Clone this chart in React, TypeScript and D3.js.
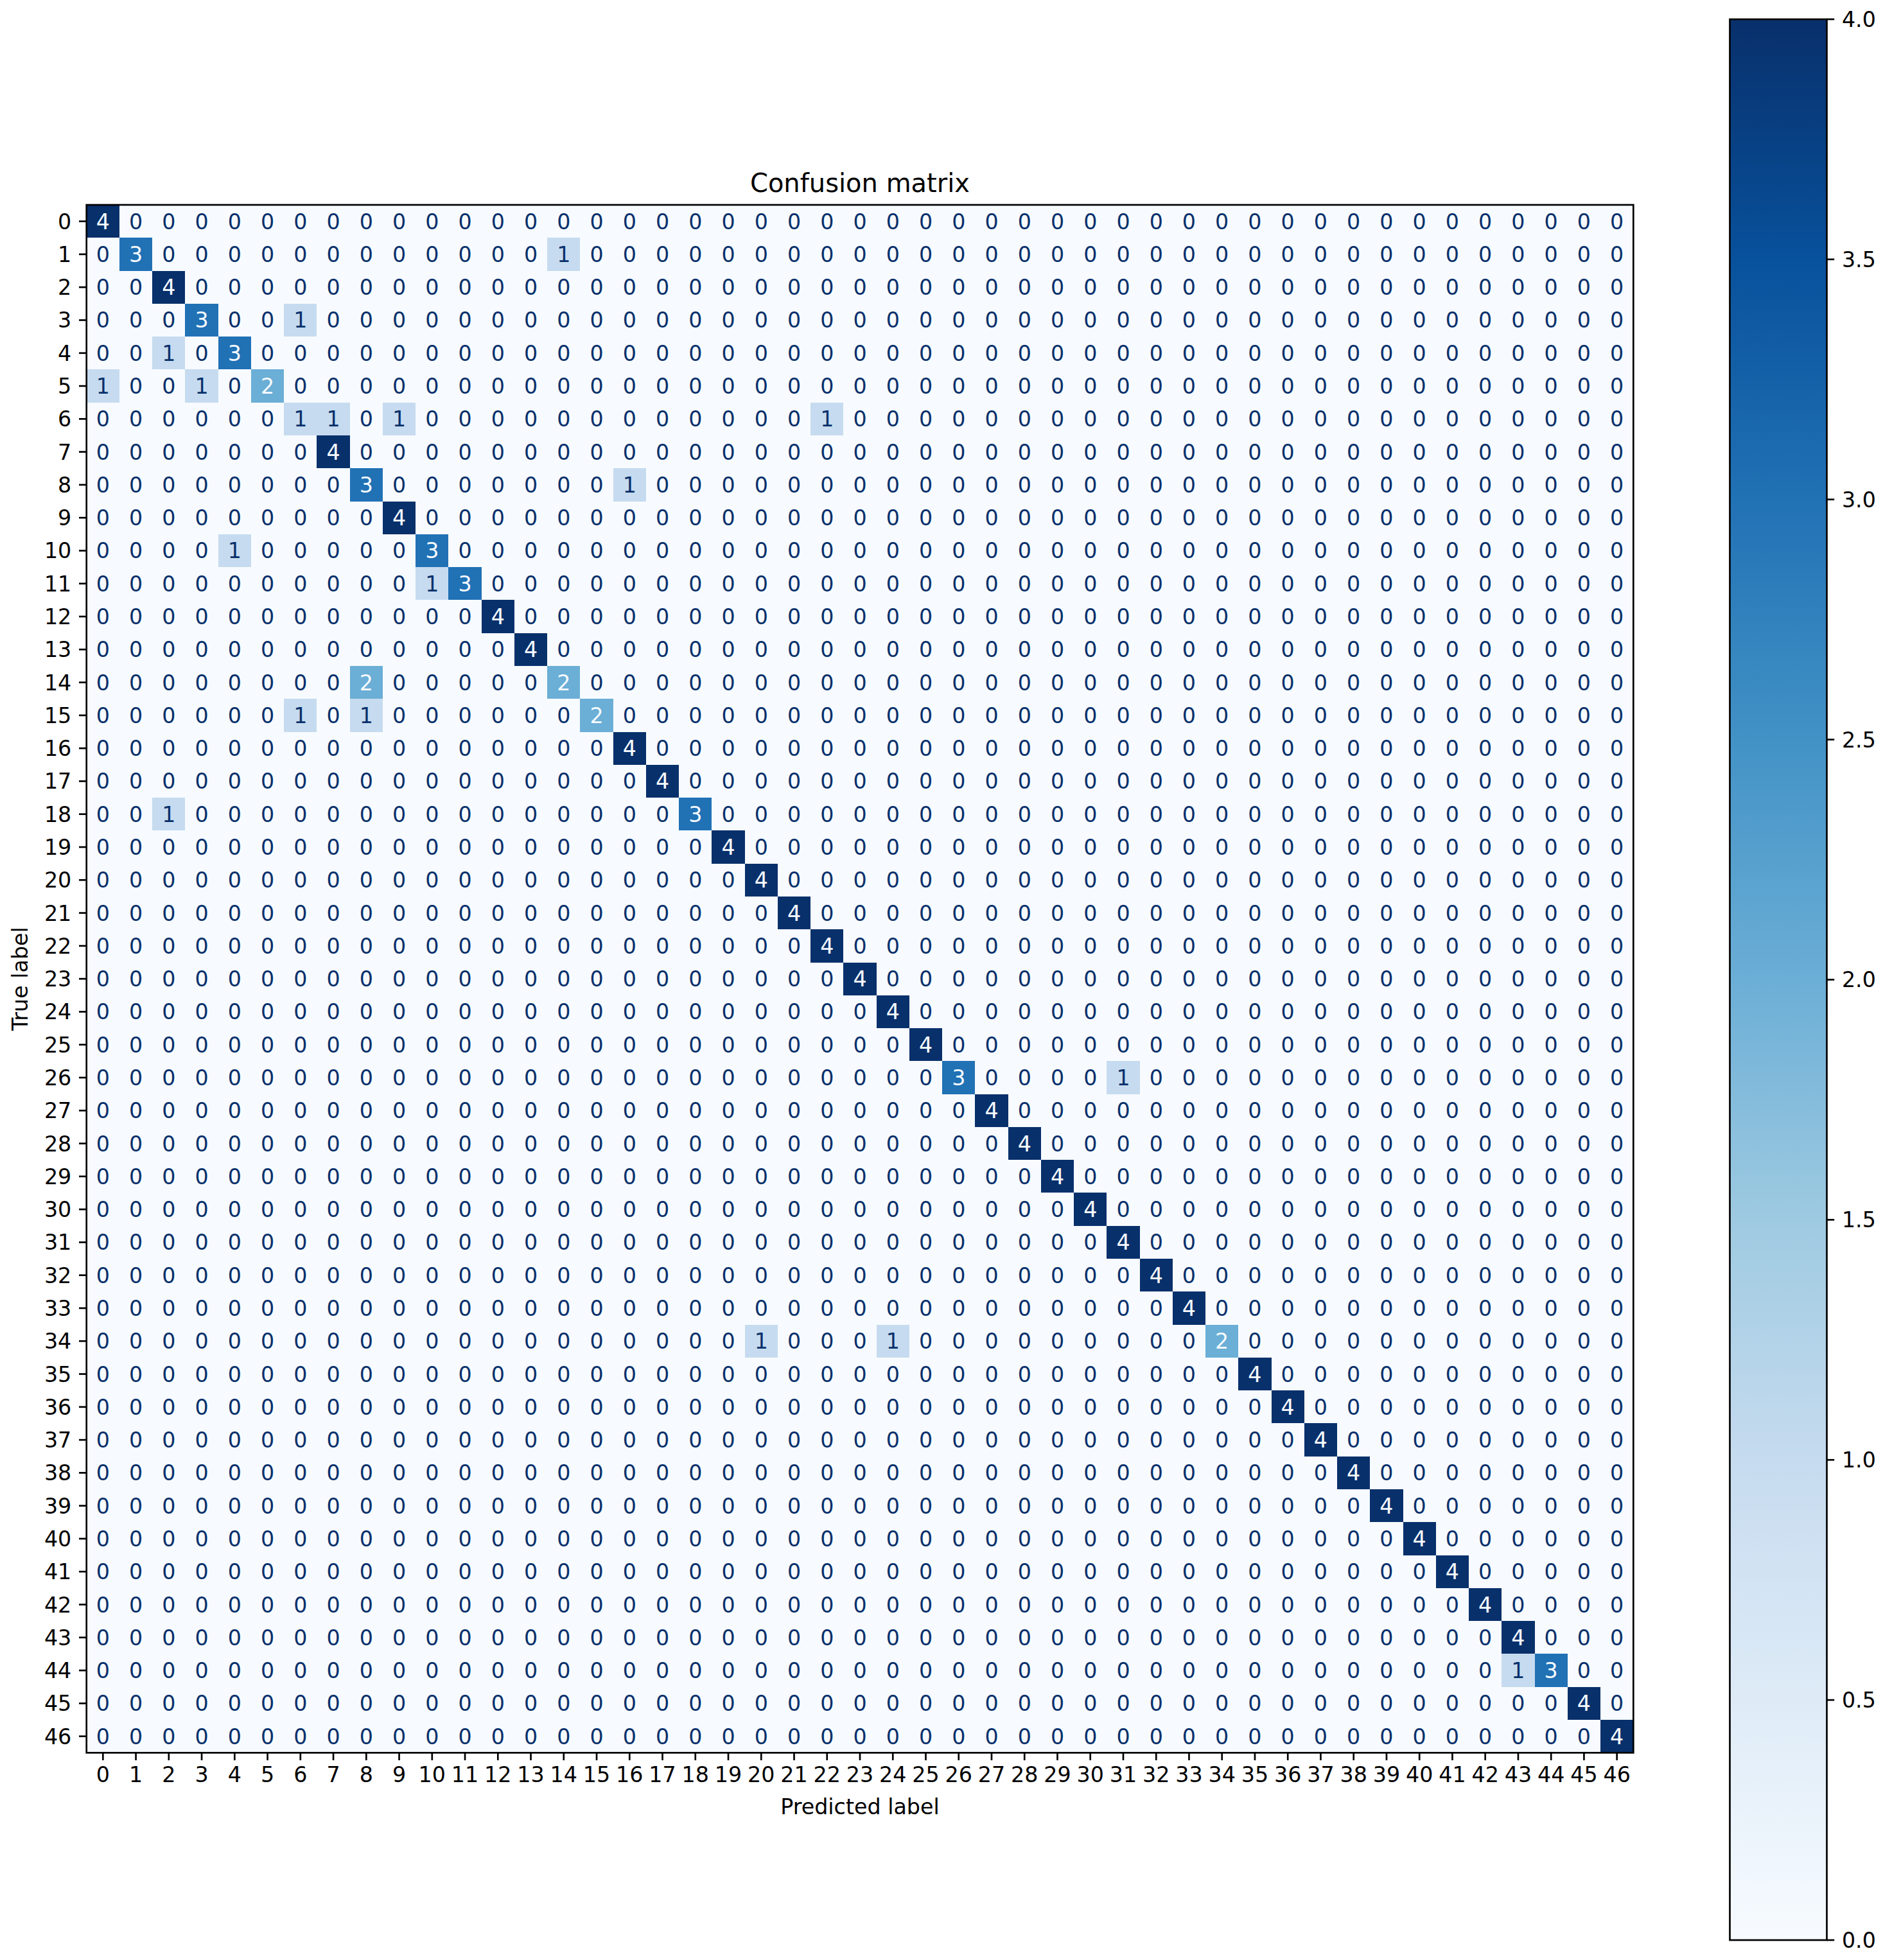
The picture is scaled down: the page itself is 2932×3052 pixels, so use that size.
import React from "react";
import * as d3 from "d3";

// ---- data ----
const classLabels: string[] = [
  "0","1","2","3","4","5","6","7","8","9","10","11","12","13","14","15",
  "16","17","18","19","20","21","22","23","24","25","26","27","28","29","30","31",
  "32","33","34","35","36","37","38","39","40","41","42","43","44","45","46",
];

// correct predictions (diagonal), one per true label
const diagonalCounts: number[] = [
  4, 3, 4, 3, 3, 2, 1, 4, 3, 4, 3, 3, 4, 4, 2, 2,
  4, 4, 3, 4, 4, 4, 4, 4, 4, 4, 3, 4, 4, 4, 4, 4,
  4, 4, 2, 4, 4, 4, 4, 4, 4, 4, 4, 4, 3, 4, 4,
];

// misclassifications: [true, predicted, count]
const offDiagonal: [number, number, number][] = [
  [1, 14, 1], [3, 6, 1], [4, 2, 1], [5, 0, 1], [5, 3, 1],
  [6, 7, 1], [6, 9, 1], [6, 22, 1], [8, 16, 1], [10, 4, 1],
  [11, 10, 1], [14, 8, 2], [15, 6, 1], [15, 8, 1], [18, 2, 1],
  [26, 31, 1], [34, 20, 1], [34, 24, 1], [44, 43, 1],
];

const colorbarTicks: number[] = [0, 0.5, 1, 1.5, 2, 2.5, 3, 3.5, 4];

// matplotlib "Blues" control colours
const bluesColors: string[] = [
  "#f7fbff", "#deebf7", "#c6dbef", "#9ecae1", "#6baed6",
  "#4292c6", "#2171b5", "#08519c", "#08306b",
];

const W = 2932;
const H = 3052;
const FONT = "DejaVu Sans";
const FS = 33.3;
const TITLE_FS = 40;
const TICK = 11.7;
const LW = 2.67;

export default function App() {
  const n = classLabels.length;
  const matrix: number[][] = classLabels.map((_, i) =>
    classLabels.map((__, j) => (i === j ? diagonalCounts[i] : 0))
  );
  offDiagonal.forEach(([r, c, v]) => {
    matrix[r][c] = v;
  });
  const cells = matrix.flatMap((row, i) =>
    row.map((v, j) => ({ i, j, v }))
  );

  const left = 134.7, right = 2543.3, top = 319, bottom = 2729.3;
  const x = d3.scaleBand<string>().domain(classLabels).range([left, right]).padding(0);
  const y = d3.scaleBand<string>().domain(classLabels).range([top, bottom]).padding(0);
  const vmin = 0, vmax = 4;
  const color = d3
    .scaleLinear<string>()
    .domain(bluesColors.map((_, k) => vmin + (k * (vmax - vmin)) / (bluesColors.length - 1)))
    .range(bluesColors)
    .interpolate(d3.interpolateRgb)
    .clamp(true);
  const thresh = (vmin + vmax) / 2;
  const textColor = (v: number) => (v < thresh ? color(vmax) : color(vmin));

  const cbLeft = 2693.5, cbRight = 2844.5, cbTop = 30, cbBottom = 3021;
  const cb = d3.scaleLinear().domain([vmin, vmax]).range([cbBottom, cbTop]);
  const midX = (left + right) / 2;
  const midY = (top + bottom) / 2;

  return (
    <svg
      width={W}
      height={H}
      viewBox={`0 0 ${W} ${H}`}
      style={{ position: "absolute", left: 0, top: 0, background: "#fff" }}
      fontFamily={FONT}
    >
      <defs>
        <linearGradient id="cbgrad" x1="0" y1="1" x2="0" y2="0">
          {bluesColors.map((c, k) => (
            <stop key={k} offset={k / (bluesColors.length - 1)} stopColor={c} />
          ))}
        </linearGradient>
      </defs>
      <rect x={0} y={0} width={W} height={H} fill="#ffffff" />

      {/* cells */}
      <g shapeRendering="crispEdges">
        {cells.map((d) => (
          <rect
            key={`r${d.i}-${d.j}`}
            x={x(classLabels[d.j])}
            y={y(classLabels[d.i])}
            width={x.bandwidth() + 0.5}
            height={y.bandwidth() + 0.5}
            fill={color(d.v)}
          />
        ))}
      </g>
      <g fontSize={FS} textAnchor="middle">
        {cells.map((d) => (
          <text
            key={`t${d.i}-${d.j}`}
            x={(x(classLabels[d.j]) as number) + x.bandwidth() / 2}
            y={(y(classLabels[d.i]) as number) + y.bandwidth() / 2}
            dy="0.36em"
            fill={textColor(d.v)}
          >
            {d.v}
          </text>
        ))}
      </g>

      {/* spines */}
      <rect x={left} y={top} width={right - left} height={bottom - top} fill="none" stroke="#000" strokeWidth={LW} />

      {/* x ticks */}
      <g fontSize={FS} textAnchor="middle" fill="#000">
        {classLabels.map((l) => {
          const cx = (x(l) as number) + x.bandwidth() / 2;
          return (
            <g key={`xt${l}`}>
              <line x1={cx} x2={cx} y1={bottom} y2={bottom + TICK} stroke="#000" strokeWidth={LW} />
              <text x={cx} y={2775}>{l}</text>
            </g>
          );
        })}
      </g>
      {/* y ticks */}
      <g fontSize={FS} textAnchor="end" fill="#000">
        {classLabels.map((l) => {
          const cy = (y(l) as number) + y.bandwidth() / 2;
          return (
            <g key={`yt${l}`}>
              <line x1={left - TICK} x2={left} y1={cy} y2={cy} stroke="#000" strokeWidth={LW} />
              <text x={left - 2 * TICK} y={cy} dy="0.36em">{l}</text>
            </g>
          );
        })}
      </g>

      {/* labels */}
      <text x={midX} y={298.5} fontSize={TITLE_FS} textAnchor="middle" fill="#000">
        Confusion matrix
      </text>
      <text x={midX} y={2825} fontSize={FS} textAnchor="middle" fill="#000">
        Predicted label
      </text>
      <text
        transform={`translate(43,${midY}) rotate(-90)`}
        fontSize={FS}
        textAnchor="middle"
        fill="#000"
      >
        True label
      </text>

      {/* colorbar */}
      <rect x={cbLeft} y={cbTop} width={cbRight - cbLeft} height={cbBottom - cbTop} fill="url(#cbgrad)" />
      <rect x={cbLeft} y={cbTop} width={cbRight - cbLeft} height={cbBottom - cbTop} fill="none" stroke="#000" strokeWidth={LW} />
      <g fontSize={FS} fill="#000">
        {colorbarTicks.map((t) => (
          <g key={`cb${t}`}>
            <line x1={cbRight} x2={cbRight + TICK} y1={cb(t)} y2={cb(t)} stroke="#000" strokeWidth={LW} />
            <text x={cbRight + 2 * TICK} y={cb(t)} dy="0.36em">{d3.format(".1f")(t)}</text>
          </g>
        ))}
      </g>
    </svg>
  );
}
